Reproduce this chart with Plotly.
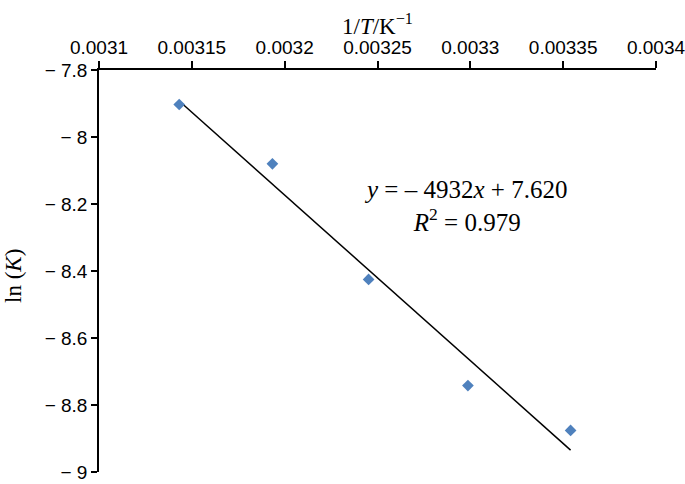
import numpy as np
import plotly.graph_objects as go

# ── données : ln(K) en fonction de 1/T ────────────────────────────────────
inv_T = [0.0031432, 0.0031934, 0.0032452, 0.0032987, 0.0033540]
ln_K = [-7.903, -8.080, -8.425, -8.742, -8.876]

x_ticks = [0.0031, 0.00315, 0.0032, 0.00325, 0.0033, 0.00335, 0.0034]
x_labels = ["0.0031", "0.00315", "0.0032", "0.00325", "0.0033", "0.00335", "0.0034"]
y_ticks = [-9, -8.8, -8.6, -8.4, -8.2, -8, -7.8]
y_labels = ["\u2212 9", "\u2212 8.8", "\u2212 8.6", "\u2212 8.4", "\u2212 8.2", "\u2212 8", "\u2212 7.8"]

x_title = "1/<i>T</i>/K<sup>\u22121</sup>"
y_title = "ln (<i>K</i>)"
eq_text = "<i>y</i> = \u2013 4932<i>x</i> + 7.620<br><i>R</i><sup>2</sup> = 0.979"

# droite de régression (moindres carrés)
slope, intercept = np.polyfit(inv_T, ln_K, 1)
x_fit = np.array([min(inv_T), max(inv_T)])
y_fit = slope * x_fit + intercept

SANS = "Liberation Sans, Arial, sans-serif"
SERIF = "Liberation Serif, Times New Roman, serif"

fig = go.Figure()
fig.add_trace(go.Scatter(
    x=x_fit, y=y_fit, mode="lines",
    line=dict(color="black", width=1.5), showlegend=False
))
fig.add_trace(go.Scatter(
    x=inv_T, y=ln_K, mode="markers",
    marker=dict(symbol="diamond", size=9, color="#4F81BD"),
    showlegend=False
))

fig.add_annotation(
    x=0.0032974, y=-8.205, xref="x", yref="y",
    text=eq_text, showarrow=False, align="center",
    font=dict(family=SERIF, size=25, color="black")
)
# titres des axes
fig.add_annotation(
    x=0.5, y=1, xref="paper", yref="paper",
    xanchor="center", yanchor="middle", yshift=46,
    text=x_title, showarrow=False,
    font=dict(family=SERIF, size=23, color="black")
)
fig.add_annotation(
    x=0, y=0.5, xref="paper", yref="paper",
    xanchor="center", yanchor="middle", xshift=-86, yshift=-5,
    text=y_title, showarrow=False, textangle=-90,
    font=dict(family=SERIF, size=23, color="black")
)

fig.update_xaxes(
    side="top", range=[0.0031 - 1e-9, 0.0034 + 1e-9],
    tickvals=x_ticks, ticktext=x_labels,
    tickfont=dict(family=SANS, size=19, color="black"),
    ticklabeloverflow="allow",
    showline=True, linecolor="black", linewidth=1.5,
    ticks="outside", ticklen=7, tickcolor="black", tickwidth=1.5,
    showgrid=False, zeroline=False, automargin=False,
)
fig.update_yaxes(
    range=[-9, -7.8],
    tickvals=y_ticks, ticktext=y_labels,
    tickfont=dict(family=SANS, size=19, color="black"),
    showline=True, linecolor="black", linewidth=1.5,
    ticks="outside", ticklen=6, tickcolor="black", tickwidth=1.5,
    showgrid=False, zeroline=False, automargin=False,
)

fig.update_layout(
    width=685, height=484,
    margin=dict(l=99, r=29, t=70, b=12),
    plot_bgcolor="white", paper_bgcolor="white",
)

# pas de marge autour de la figure dans la page, pas de barre d'outils
fig.write_html("out.html", config={"displayModeBar": False},
               post_script="document.body.style.margin='0';")
